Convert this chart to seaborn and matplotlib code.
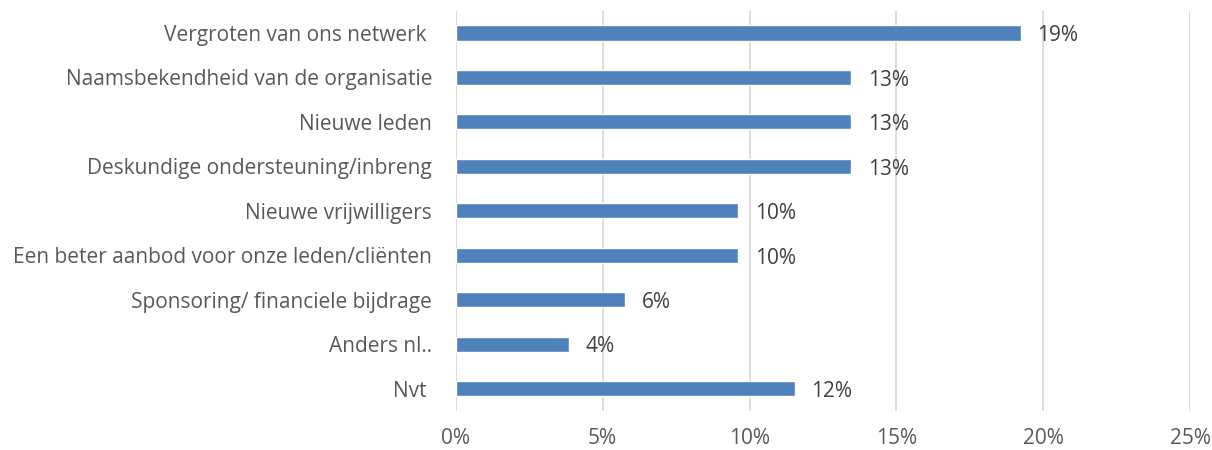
import matplotlib
matplotlib.use("Agg")
import matplotlib.pyplot as plt
import seaborn as sns
import pandas as pd
from matplotlib.ticker import PercentFormatter

# Answers (share of respondents, n = 52)
categories = [
    "Vergroten van ons netwerk ",
    "Naamsbekendheid van de organisatie",
    "Nieuwe leden",
    "Deskundige ondersteuning/inbreng",
    "Nieuwe vrijwilligers",
    "Een beter aanbod voor onze leden/cliënten",
    "Sponsoring/ financiele bijdrage",
    "Anders nl..",
    "Nvt ",
]
shares = [0.1923, 0.1346, 0.1346, 0.1346, 0.0962, 0.0962, 0.0577, 0.0385, 0.1154]
value_labels = ["19%", "13%", "13%", "13%", "10%", "10%", "6%", "4%", "12%"]

df = pd.DataFrame({"Categorie": categories, "Aandeel": shares})

sns.set_style("white")
plt.rcParams["font.family"] = ["Open Sans", "DejaVu Sans"]
text_color = "#595959"

fig = plt.figure(figsize=(12.12, 4.5), dpi=100)
ax = fig.add_axes([0.376, 0.087, 0.606, 0.889])

sns.barplot(data=df, y="Categorie", x="Aandeel", color="#4F81BD",
            saturation=1, width=0.34, ax=ax, zorder=3)

texts = ax.bar_label(ax.containers[0], labels=value_labels, padding=12,
                     fontsize=15, color="#404040")
for t in texts:
    t.xyann = (12, -2)

ax.set_xlim(0, 0.25)
ax.set_xticks([0, 0.05, 0.10, 0.15, 0.20, 0.25])
ax.xaxis.set_major_formatter(PercentFormatter(1.0, decimals=0))
ax.grid(axis="x", color="#D9D9D9", linewidth=1.3, zorder=0)
ax.set_axisbelow(True)
for s in ax.spines.values():
    s.set_visible(False)

ax.set_xlabel("")
ax.set_ylabel("")
ax.tick_params(axis="y", length=0, pad=17, labelsize=15, labelcolor=text_color)
ax.tick_params(axis="x", length=0, pad=12, labelsize=15, labelcolor=text_color)

fig.savefig("out.png", dpi=100)
